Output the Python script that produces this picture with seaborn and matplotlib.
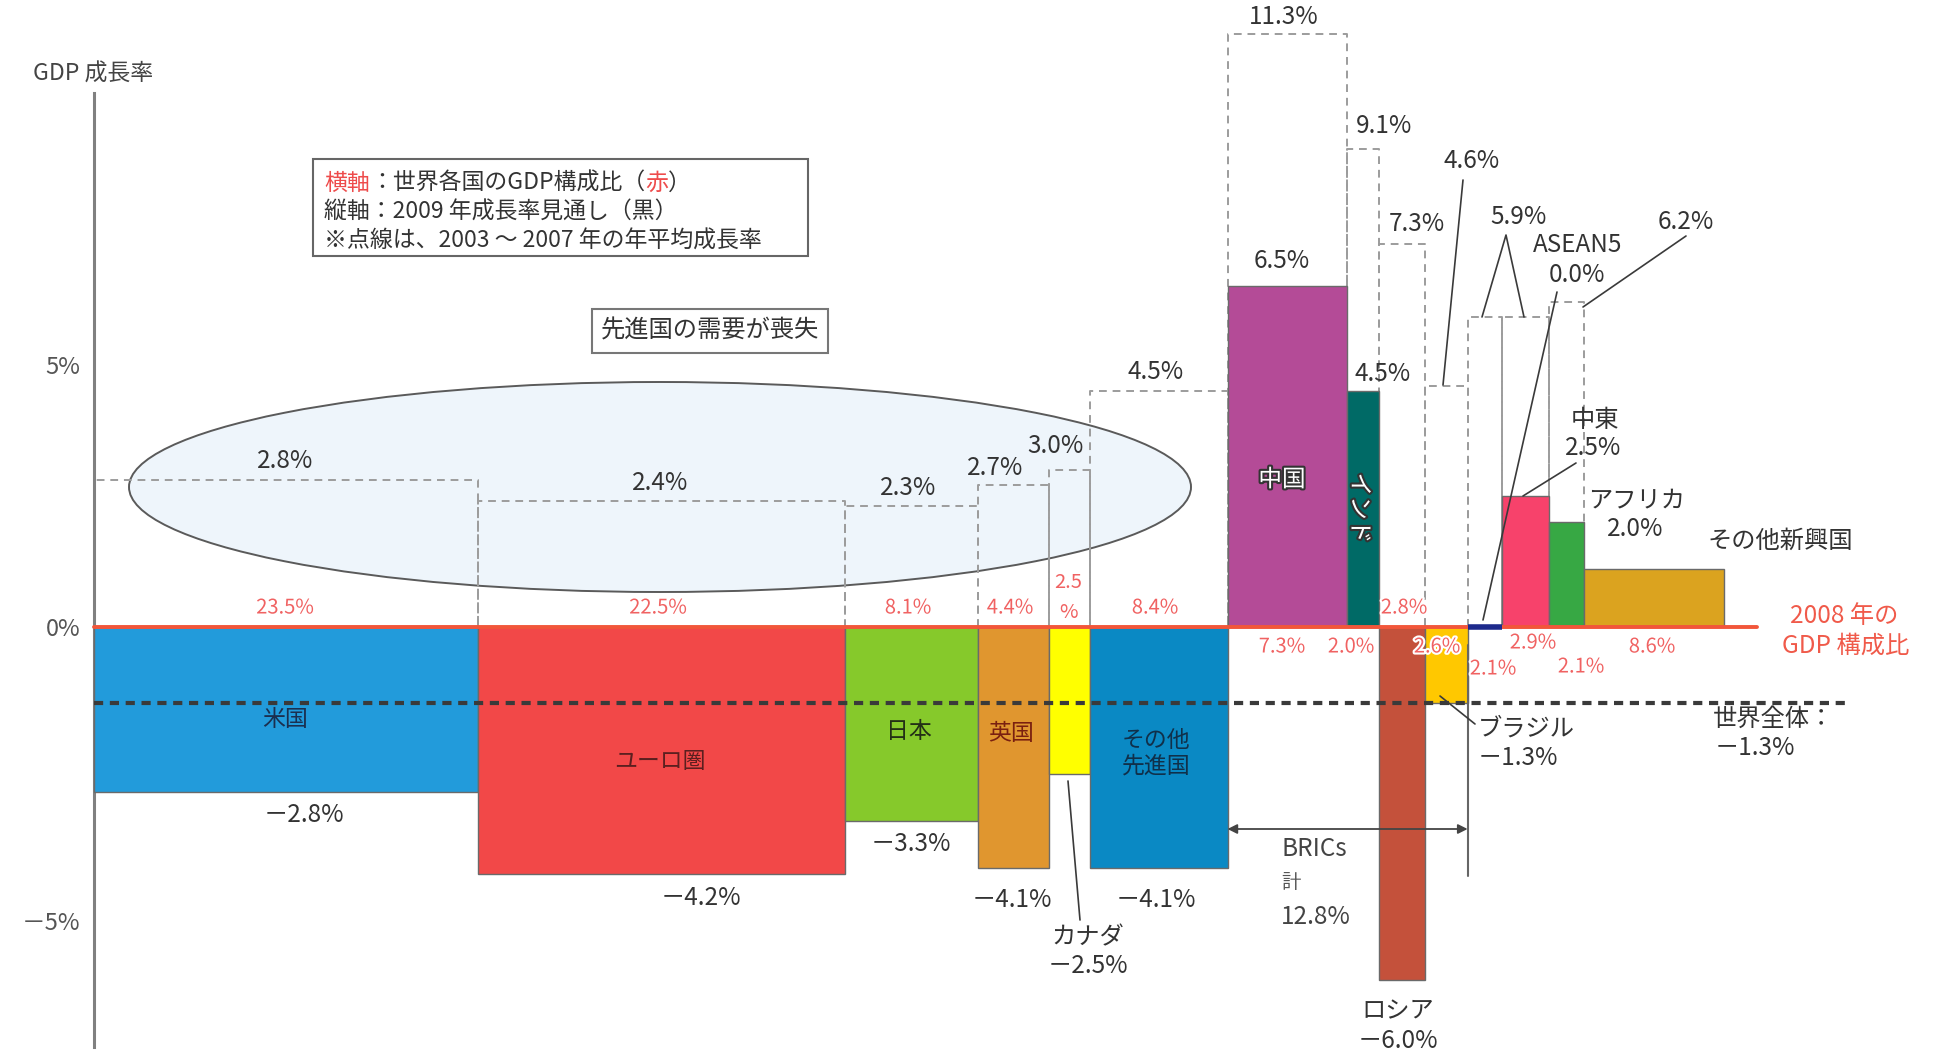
import numpy as np
import pandas as pd
import matplotlib
matplotlib.use("Agg")
import matplotlib.pyplot as plt
import seaborn as sns
from matplotlib.patches import Ellipse, Rectangle
import matplotlib.patheffects as pe
from matplotlib.transforms import blended_transform_factory

# ---------------- data ----------------
regions = ["米国", "ユーロ圏", "日本", "英国", "カナダ", "その他先進国",
           "中国", "インド", "ロシア", "ブラジル", "ASEAN5", "中東", "アフリカ", "その他新興国"]
gdp_share_2008 = [23.5, 22.5, 8.1, 4.4, 2.5, 8.4, 7.3, 2.0, 2.8, 2.6, 2.1, 2.9, 2.1, 8.6]
growth_2009 = [-2.8, -4.2, -3.3, -4.1, -2.5, -4.1, 6.5, 4.5, -6.0, -1.3, 0.0, 2.5, 2.0, 1.1]
avg_growth_2003_2007 = [2.8, 2.4, 2.3, 2.7, 3.0, 4.5, 11.3, 9.1, 7.3, 4.6, 5.9, 5.9, 6.2, np.nan]
bar_colors = ["#229bdb", "#f24848", "#86c92b", "#e0962f", "#ffff00", "#0a89c4",
              "#b44b97", "#006a66", "#c4513b", "#ffc800", "#1d2a8c", "#f7426b", "#37a844", "#dba31f"]
world_growth_2009 = -1.3
brics_share_total = 12.8
y_ticks = [-5, 0, 5]

# ---------------- layout helpers ----------------
W, H = 1943, 1052
NEG = 1.12  # the reference stretches the negative side of the growth axis


def fwd(y):
    y = np.asarray(y, float)
    return np.where(y < 0, y * NEG, y)


def inv(y):
    y = np.asarray(y, float)
    return np.where(y < 0, y / NEG, y)


def pct(v):
    s = f"{abs(v):.1f}%"
    return ("－" + s) if v < 0 else s


sns.set_theme(style="white")
plt.rcParams["font.family"] = ["Noto Sans CJK JP", "DejaVu Sans"]
plt.rcParams["axes.unicode_minus"] = False

fig = plt.figure(figsize=(W / 100, H / 100), dpi=100)
ax = fig.add_axes([0, 0, 1, 1])

shares = np.array(gdp_share_2008)
lefts = np.concatenate([[0], np.cumsum(shares)[:-1]])
centers = lefts + shares / 2

df = pd.DataFrame({"region": regions, "center": centers, "growth": growth_2009})
sns.barplot(data=df, x="center", y="growth", hue="region",
            palette=dict(zip(regions, bar_colors)), native_scale=True, saturation=1,
            legend=False, errorbar=None, ax=ax,
            edgecolor="#6a6a6a", linewidth=1.0, zorder=3)

# variable-width bars: width = GDP share
for p in ax.patches:
    pc = p.get_x() + p.get_width() / 2
    i = int(np.argmin(np.abs(centers - pc)))
    p.set_x(lefts[i])
    p.set_width(shares[i])
    if growth_2009[i] == 0:
        p.set_edgecolor(bar_colors[i])
        p.set_linewidth(4)
        p.set_zorder(6)

ax.set_yscale("function", functions=(fwd, inv))
ax.set_xlim(-94 / 16.333, (W - 94) / 16.333)
ax.set_ylim(float(inv(-425 / 52.5)), 627 / 52.5)
ax.set_xlabel("")
ax.set_ylabel("")
ax.set_xticks([])
ax.set_yticks(y_ticks)
ax.set_yticklabels([f"{t}%" if t >= 0 else f"－{abs(t)}%" for t in y_ticks])
ax.tick_params(axis="y", length=0, pad=10, labelsize=17, labelcolor="#555555")
for s in ["top", "right", "bottom"]:
    ax.spines[s].set_visible(False)
ax.spines["left"].set_position(("data", 0))
ax.spines["left"].set_bounds(float(inv(-(1047 - 627) / 52.5)), (627 - 93) / 52.5)
ax.spines["left"].set_color("#808080")
ax.spines["left"].set_linewidth(2.2)
ax.grid(False)

# ellipse "advanced economies"
ax.add_patch(Ellipse((660 / W, 1 - 487 / H), 1062 / W, 210 / H, transform=ax.transAxes,
                     facecolor="#eef5fb", edgecolor="#5a5a5a", lw=1.4, zorder=1))

# dashed 2003-2007 average outlines
for l, sh, a in zip(lefts, shares, avg_growth_2003_2007):
    if np.isnan(a):
        continue
    ax.plot([l, l, l + sh, l + sh], [0, a, a, 0], color="#9c9c9c", lw=1.4,
            ls=(0, (4, 3)), zorder=2)

# zero line (red) and world growth line
ax.axhline(0, xmin=94 / W, xmax=1757 / W, color="#f2563a", lw=2.8, zorder=5)
ax.axhline(world_growth_2009, xmin=94 / W, xmax=1846 / W, color="#3a3a3a", lw=3,
           ls=(0, (2.2, 1.6)), zorder=4)


def T(px, py, s, **kw):
    kw.setdefault("ha", "center")
    kw.setdefault("va", "center")
    kw.setdefault("color", "#333333")
    kw.setdefault("fontsize", 17.5)
    return ax.text(px / W, 1 - py / H, s, transform=ax.transAxes, zorder=8, **kw)


def seg(*pts, **kw):
    xs = [p[0] / W for p in pts]
    ys = [1 - p[1] / H for p in pts]
    ax.plot(xs, ys, transform=ax.transAxes, color=kw.get("color", "#3a3a3a"),
            lw=kw.get("lw", 1.2), zorder=7)


# axis title
T(93, 74, "GDP 成長率", fontsize=16.5, color="#444444")

# legend box
ax.add_patch(Rectangle((313 / W, 1 - 256 / H), (808 - 313) / W, (256 - 159) / H,
                       transform=ax.transAxes, facecolor="white", edgecolor="#666666",
                       lw=1.5, zorder=7))


def rainbow(px, py, parts, size=16.5):
    t = ax.text(px / W, 1 - py / H, parts[0][0], color=parts[0][1], transform=ax.transAxes,
                ha="left", va="bottom", fontsize=size, zorder=8)
    for s, c in parts[1:]:
        t = ax.annotate(s, xy=(1, 0), xycoords=t, ha="left", va="bottom", color=c,
                        fontsize=size, zorder=8)


red = "#ee4b4b"
blk = "#333333"
rainbow(324, 195, [("横軸", red), ("：世界各国のGDP構成比（", blk), ("赤", red), ("）", blk)])
rainbow(324, 224, [("縦軸：2009 年成長率見通し（黒）", blk)])
rainbow(324, 253, [("※点線は、2003 ～ 2007 年の年平均成長率", blk)])

T(710, 331, "先進国の需要が喪失", fontsize=17.5,
  bbox=dict(boxstyle="square,pad=0.35", facecolor="white", edgecolor="#777777", lw=1.5))

# average (dotted) labels
avg_pos = [(285, 461), (660, 483), (908, 488), (995, 468), (1056, 446), (1156, 372),
           (1284, 17), (1384, 126), (1417, 224), (1472, 161), (1519, 217), None, (1686, 222), None]
for pos, a in zip(avg_pos, avg_growth_2003_2007):
    if pos is not None:
        T(pos[0], pos[1], pct(a))

# 2009 growth labels
val_pos = [(304, 815), (701, 898), (911, 844), (1012, 900), (1088, 966), (1156, 900),
           (1282, 261), (1383, 374), (1398, 1041), (1478, 758), (1577, 275), (1593, 448),
           (1635, 529), None]
for i, (pos, v) in enumerate(zip(val_pos, growth_2009)):
    if pos is None:
        continue
    if regions[i] == "ブラジル":
        T(pos[0], pos[1], pct(v), ha="left")
    else:
        T(pos[0], pos[1], pct(v))

# name labels outside bars
T(1088, 937, "カナダ")
T(1398, 1011, "ロシア")
T(1478, 729, "ブラジル", ha="left")
T(1578, 245, "ASEAN5")
T(1595, 420, "中東")
T(1637, 500, "アフリカ")
T(1780, 541, "その他新興国")
T(1713, 719, "世界全体：", ha="left")
T(1715, 748, pct(world_growth_2009), ha="left")

# names inside bars
T(285, 719, "米国", color="#1b2f4f", fontsize=16.5)
T(660, 761, "ユーロ圏", color="#5b1f1f", fontsize=16.5)
T(909, 732, "日本", color="#233016", fontsize=16.5)
T(1011, 734, "英国", color="#7a2010", fontsize=16.5)
T(1156, 753, "その他\n先進国", color="#10304a", fontsize=16.5, linespacing=1.15)
stroke = [pe.withStroke(linewidth=3, foreground="#333333")]
T(1282, 480, "中国", color="white", fontsize=17, path_effects=stroke)
T(1359, 508, "インド", color="white", fontsize=17, rotation=-90, path_effects=stroke)

# GDP share labels (red)
share_pos = [(285, 608), (658, 608), (908, 608), (1010, 608), None, (1155, 608),
             (1282, 647), (1351, 647), (1404, 608), (1437, 647), (1493, 669), (1533, 643),
             (1581, 667), (1652, 647)]
wstroke = [pe.withStroke(linewidth=3, foreground="white")]
for pos, s in zip(share_pos, gdp_share_2008):
    if pos is not None:
        T(pos[0], pos[1], f"{s:.1f}%", color="#f06262", fontsize=14.5, path_effects=wstroke)
cs = gdp_share_2008[regions.index("カナダ")]
T(1068, 582, f"{cs:.1f}", color="#f06262", fontsize=14.5)
T(1068, 612, "%", color="#f06262", fontsize=14.5)
T(1844, 616, "2008 年の", color="#f05a4a", fontsize=17.5)
T(1846, 646, "GDP 構成比", color="#f05a4a", fontsize=17.5)

# BRICs bracket
i_cn, i_br = regions.index("中国"), regions.index("ブラジル")
bx0, bx1 = lefts[i_cn], lefts[i_br] + shares[i_br]
ax.annotate("", xy=(bx1, 1 - 829 / H), xytext=(bx0, 1 - 829 / H),
            xycoords=("data", "axes fraction"), textcoords=("data", "axes fraction"),
            arrowprops=dict(arrowstyle="<|-|>", color="#444444", lw=1.3, mutation_scale=14,
                            shrinkA=0, shrinkB=0), zorder=7)
ax.plot([bx1, bx1], [1 - 645 / H, 1 - 876 / H],
        transform=blended_transform_factory(ax.transData, ax.transAxes),
        color="#666666", lw=1.5, zorder=7)
T(1281, 849, "BRICs", ha="left", color="#444444")
T(1281, 882, "計", ha="left", color="#555555", fontsize=14)
T(1281, 917, f"{brics_share_total:.1f}%", ha="left", color="#444444")

# leader lines
seg((1068, 781), (1080, 920))
seg((1440, 696), (1475, 724))
seg((1463, 180), (1443, 385))
seg((1482, 317), (1506, 235), (1524, 317))
seg((1557, 292), (1483, 620))
seg((1686, 236), (1583, 307))
seg((1576, 463), (1523, 496))

fig.savefig("out.png", dpi=100)
